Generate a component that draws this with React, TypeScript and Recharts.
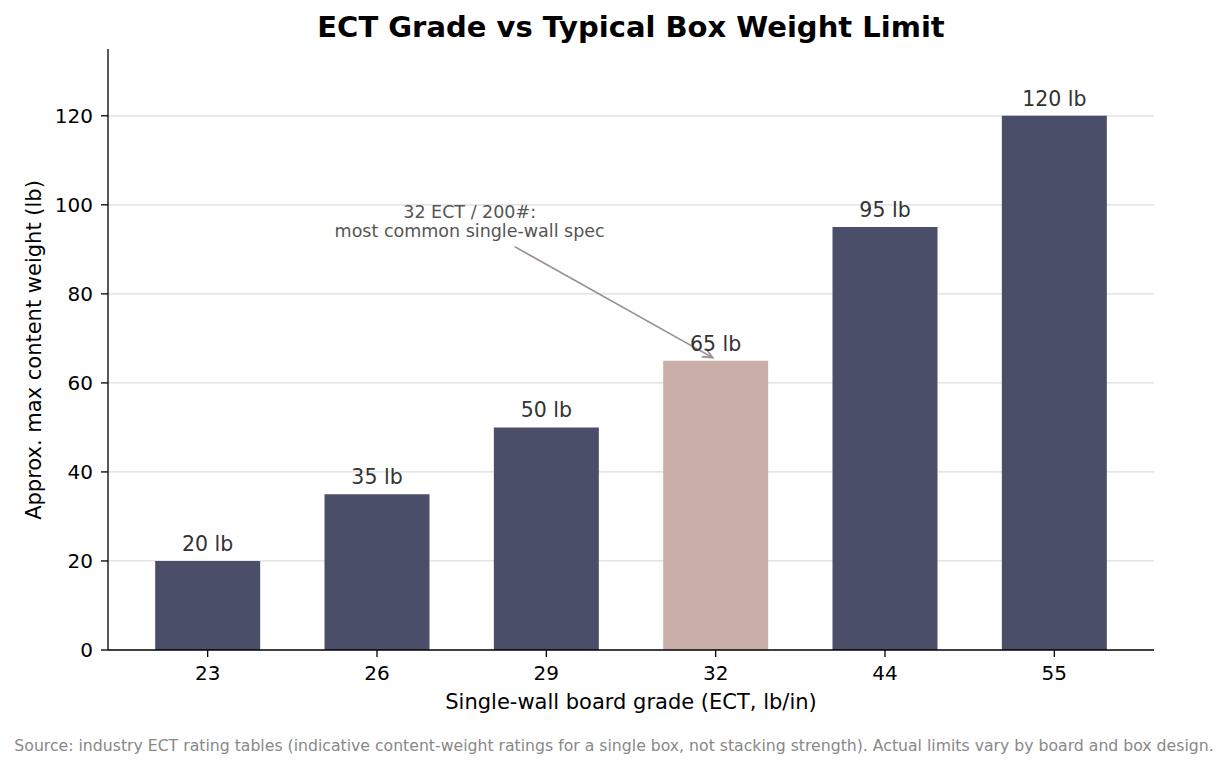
import React from "react";
import {
  BarChart,
  Bar,
  XAxis,
  YAxis,
  CartesianGrid,
  Cell,
  LabelList,
  ReferenceDot,
} from "recharts";

const grades = ["23", "26", "29", "32", "44", "55"];
const weights = [20, 35, 50, 65, 95, 120];
const yTicks = [0, 20, 40, 60, 80, 100, 120];
const gridValues = [20, 40, 60, 80, 100, 120];
const highlightGrade = "32";

const data = grades.map((g, i) => ({ grade: g, weight: weights[i] }));

const FONT = "'DejaVu Sans', sans-serif";
const DARK = "#4a4e69";
const LIGHT = "#c9ada7";

// annotation arrow drawn relative to the top of the 32 ECT bar
function Annotation(props: any) {
  const { cx, cy } = props;
  if (cx == null || cy == null) return null;
  const tipX = cx - 3;
  const tipY = cy - 3;
  const sx = cx - 201;
  const sy = cy - 114;
  const ang = Math.atan2(tipY - sy, tipX - sx);
  const h = 11;
  const spread = 0.42;
  const a1x = tipX - h * Math.cos(ang - spread);
  const a1y = tipY - h * Math.sin(ang - spread);
  const a2x = tipX - h * Math.cos(ang + spread);
  const a2y = tipY - h * Math.sin(ang + spread);
  const tx = cx - 246;
  return (
    <g>
      <line x1={sx} y1={sy} x2={tipX} y2={tipY} stroke="#9a8c98" strokeWidth={1.7} />
      <polyline
        points={`${a1x},${a1y} ${tipX},${tipY} ${a2x},${a2y}`}
        fill="none"
        stroke="#9a8c98"
        strokeWidth={1.7}
      />
      <text textAnchor="middle" fontSize={17.5} fill="#555" fontFamily={FONT}>
        <tspan x={tx} y={cy - 143}>32 ECT / 200#:</tspan>
        <tspan x={tx} y={cy - 124}>most common single-wall spec</tspan>
      </text>
    </g>
  );
}

export default function App() {
  return (
    <div
      style={{
        position: "absolute",
        left: 0,
        top: 0,
        width: 1228,
        height: 769,
        background: "#fff",
      }}
    >
      <BarChart
        width={1228}
        height={769}
        data={data}
        margin={{ top: 49, right: 74, bottom: 89, left: 48 }}
        barCategoryGap="19%"
      >
        <CartesianGrid
          vertical={false}
          horizontalValues={gridValues}
          stroke="#dddddd"
          strokeWidth={1.3}
        />
        <XAxis
          dataKey="grade"
          height={30}
          padding={{ left: 15, right: 15 }}
          tick={{ fontSize: 20, fill: "#000", fontFamily: FONT }}
          tickSize={7}
          tickMargin={9}
          axisLine={{ stroke: "#000", strokeWidth: 1.3 }}
          tickLine={{ stroke: "#000", strokeWidth: 1.3 }}
        />
        <YAxis
          width={60}
          domain={[0, 135]}
          ticks={yTicks}
          tick={{ fontSize: 20, fill: "#000", fontFamily: FONT }}
          tickSize={7}
          tickMargin={8}
          axisLine={{ stroke: "#000", strokeWidth: 1.3 }}
          tickLine={{ stroke: "#000", strokeWidth: 1.3 }}
          allowDataOverflow
        />
        <Bar dataKey="weight" isAnimationActive={false}>
          {data.map((d) => (
            <Cell key={d.grade} fill={d.grade === highlightGrade ? LIGHT : DARK} />
          ))}
          <LabelList
            dataKey="weight"
            position="top"
            offset={10}
            formatter={(v: any) => `${v} lb`}
            style={{ fontSize: 20.5, fill: "#333", fontFamily: FONT }}
          />
        </Bar>
        <ReferenceDot
          x={highlightGrade}
          y={weights[grades.indexOf(highlightGrade)]}
          r={0}
          shape={(p: any) => <Annotation {...p} />}
          isFront
        />
      </BarChart>
      <svg
        width={1228}
        height={769}
        style={{ position: "absolute", left: 0, top: 0, pointerEvents: "none" }}
        fontFamily={FONT}
      >
        <text x={631} y={37} textAnchor="middle" fontSize={29} fontWeight="bold" fill="#000">
          ECT Grade vs Typical Box Weight Limit
        </text>
        <text
          x={0}
          y={0}
          transform="translate(41,350) rotate(-90)"
          textAnchor="middle"
          fontSize={21}
          fill="#000"
        >
          Approx. max content weight (lb)
        </text>
        <text x={631} y={709} textAnchor="middle" fontSize={21} fill="#000">
          Single-wall board grade (ECT, lb/in)
        </text>
        <text x={614} y={751} textAnchor="middle" fontSize={15.7} fill="#888">
          Source: industry ECT rating tables (indicative content-weight ratings for a single box, not stacking strength). Actual limits vary by board and box design.
        </text>
      </svg>
    </div>
  );
}
